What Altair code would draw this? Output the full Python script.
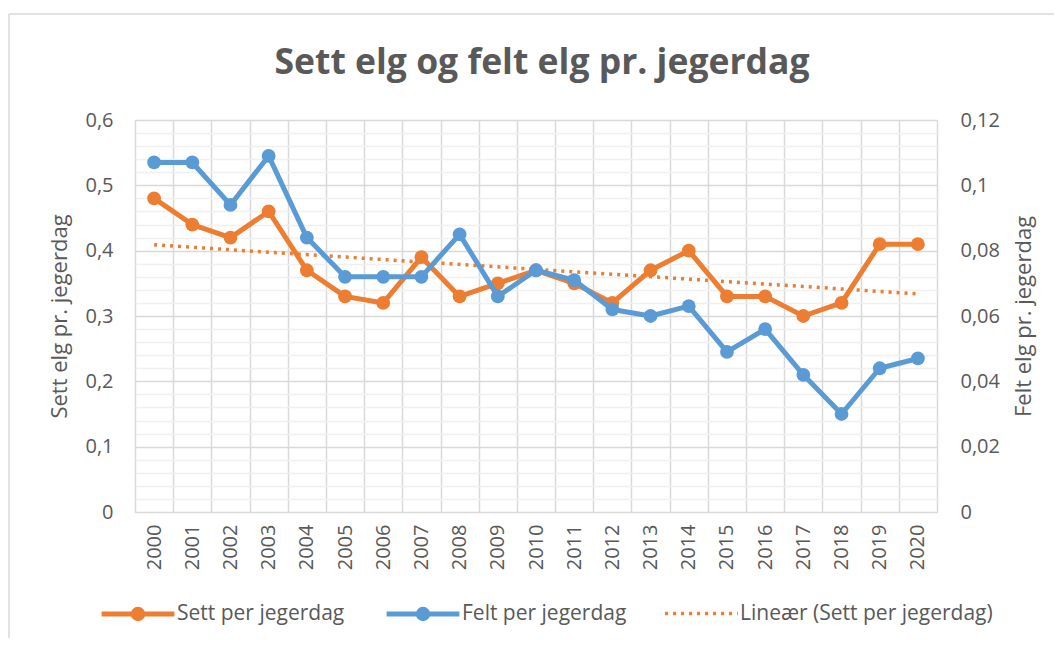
import altair as alt
import pandas as pd
import numpy as np

years = list(range(2000, 2021))
sett = [0.48, 0.44, 0.42, 0.46, 0.37, 0.33, 0.32, 0.39, 0.33, 0.35, 0.37,
        0.35, 0.32, 0.37, 0.40, 0.33, 0.33, 0.30, 0.32, 0.41, 0.41]
felt = [0.107, 0.107, 0.094, 0.109, 0.084, 0.072, 0.072, 0.072, 0.085, 0.066, 0.074,
        0.071, 0.062, 0.060, 0.063, 0.049, 0.056, 0.042, 0.030, 0.044, 0.047]

series_names = ["Sett per jegerdag", "Felt per jegerdag", "Lineær (Sett per jegerdag)"]
ORANGE = "#ED7D31"
BLUE = "#5B9BD5"

title_text = "Sett elg og felt elg pr. jegerdag"
left_title = "Sett elg pr. jegerdag"
right_title = "Felt elg pr. jegerdag"

df = pd.DataFrame({"year": years, "sett": sett, "felt": felt})

FONT = "Open Sans"
TXT = "#595959"
GRID_MAJOR = "#d9d9d9"
GRID_MINOR = "#f0f0f0"

x_ticks = sorted(years + [y - 0.5 for y in years] + [years[-1] + 0.5])
left_ticks = [round(v, 2) for v in np.arange(0, 0.6001, 0.02)]
right_ticks = [round(v, 2) for v in np.arange(0, 0.12001, 0.02)]

x_enc = alt.X(
    "year:Q",
    scale=alt.Scale(domain=[years[0] - 0.5, years[-1] + 0.5], nice=False, zero=False),
    axis=alt.Axis(
        values=x_ticks,
        labelExpr="datum.value % 1 === 0 ? '' + datum.value : ''",
        labelAngle=-90,
        labelFontSize=20,
        labelFont=FONT,
        labelColor=TXT,
        labelPadding=12,
        labelOverlap=False,
        labelBound=False,
        ticks=False,
        domain=False,
        grid=True,
        gridColor=GRID_MAJOR,
        gridWidth=1.5,
        gridOpacity={"condition": {"test": "datum.value % 1 === 0", "value": 0}, "value": 1},
        title=None,
    ),
)

LINE_CIRCLE = "M-1,0L1,0M-0.13,0A0.13,0.13,0,1,1,0.13,0A0.13,0.13,0,1,1,-0.13,0Z"
SYM_SIZE = 5300
LEG_Y = 455


def make_legend(x, shape, col, width, dash=None):
    kw = dict(
        title=None,
        orient="none",
        legendX=x,
        legendY=LEG_Y,
        padding=0,
        labelFont=FONT,
        labelFontSize=21,
        labelColor=TXT,
        labelOffset=0,
        labelLimit=400,
        symbolSize=SYM_SIZE,
        symbolType=shape,
        symbolStrokeColor=col,
        symbolStrokeWidth=width,
        symbolOpacity=1,
    )
    if dash is not None:
        kw["symbolDash"] = dash
    return alt.Legend(**kw)


y_left = alt.Y(
    "sett:Q",
    scale=alt.Scale(domain=[0, 0.6], nice=False),
    axis=alt.Axis(
        values=left_ticks,
        labelExpr="abs(datum.value*10 - round(datum.value*10)) < 0.001 ? replace(format(datum.value, '.1~f'), '.', ',') : ''",
        labelFont=FONT,
        labelFontSize=20,
        labelColor=TXT,
        labelPadding=22,
        labelOverlap=False,
        ticks=False,
        domain=False,
        grid=True,
        gridWidth=1.5,
        gridColor={"condition": {"test": "abs(datum.value*10 - round(datum.value*10)) < 0.001", "value": GRID_MAJOR}, "value": GRID_MINOR},
        title=left_title,
        titleFont=FONT,
        titleFontSize=22,
        titleFontWeight="normal",
        titleColor=TXT,
        titlePadding=13,
        orient="left",
    ),
)

y_right = alt.Y(
    "felt:Q",
    scale=alt.Scale(domain=[0, 0.12], nice=False),
    axis=alt.Axis(
        values=right_ticks,
        labelExpr="replace(format(datum.value, '.2~f'), '.', ',')",
        labelFont=FONT,
        labelFontSize=20,
        labelColor=TXT,
        labelPadding=23,
        labelOverlap=False,
        ticks=False,
        domain=False,
        grid=False,
        title=right_title,
        titleFont=FONT,
        titleFontSize=22,
        titleFontWeight="normal",
        titleColor=TXT,
        titleAngle=270,
        titleBaseline="top",
        titlePadding=14,
        orient="right",
    ),
)

base = alt.Chart(df)

trend = base.transform_regression(
    "year", "sett", method="linear", extent=[years[0], years[-1]]
).transform_calculate(series=f"'{series_names[2]}'").mark_line(
    strokeWidth=3.5, strokeDash=[3, 5]
).encode(
    x=x_enc,
    y=y_left,
    color=alt.Color("series:N", scale=alt.Scale(domain=[series_names[2]], range=[ORANGE]),
                    legend=make_legend(528, "stroke", ORANGE, 3.5, [3, 5])),
)

sett_line = base.mark_line(strokeWidth=5, strokeJoin="round", color=ORANGE).encode(
    x=x_enc, y=y_left
)
sett_pts = base.transform_calculate(series=f"'{series_names[0]}'").mark_circle(
    size=190, opacity=1
).encode(
    x=x_enc,
    y=y_left,
    color=alt.Color("series:N", scale=alt.Scale(domain=[series_names[0]], range=[ORANGE]),
                    legend=make_legend(-36, LINE_CIRCLE, ORANGE, 5)),
)

felt_line = base.mark_line(strokeWidth=5, strokeJoin="round", color=BLUE).encode(
    x=x_enc, y=y_right
)
felt_pts = base.transform_calculate(series=f"'{series_names[1]}'").mark_circle(
    size=190, opacity=1
).encode(
    x=x_enc,
    y=y_right,
    color=alt.Color("series:N", scale=alt.Scale(domain=[series_names[1]], range=[BLUE]),
                    legend=make_legend(249, LINE_CIRCLE, BLUE, 5)),
)

# outer chart-area frame (decoration, like the Excel chart border)
frame_src = alt.Chart(pd.DataFrame({"frame": [0]}))
frame_top = frame_src.mark_rule(color=GRID_MAJOR, strokeWidth=1.5).encode(
    x=alt.value(-126), x2=alt.value(960), y=alt.value(-106)
)
frame_left = frame_src.mark_rule(color=GRID_MAJOR, strokeWidth=1.5).encode(
    x=alt.value(-126), y=alt.value(-106), y2=alt.value(540)
)

left = alt.layer(trend, sett_line, sett_pts).resolve_scale(color="independent")
right = alt.layer(felt_line, felt_pts)

chart = alt.layer(left, right, frame_top, frame_left).resolve_scale(
    y="independent", color="independent"
).properties(
    width=802,
    height=392,
    autosize=alt.AutoSizeParams(type="none"),
    padding={"left": 127, "top": 112, "right": 117, "bottom": 126},
    title=alt.Title(
        title_text,
        font=FONT,
        fontSize=35.5,
        fontWeight="bold",
        color=TXT,
        anchor="middle",
        offset=0,
        dx=6,
        dy=68,
    ),
).configure_view(stroke=GRID_MAJOR, strokeWidth=1.5).configure(background="white")

chart.save("out.html", embed_options={"renderer": "svg", "actions": False})
